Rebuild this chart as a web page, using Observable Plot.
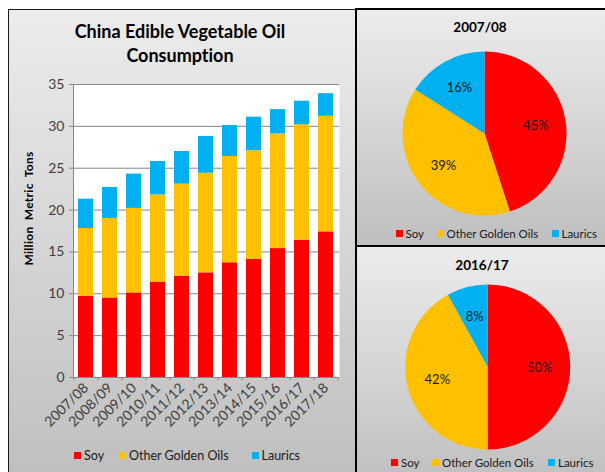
<!DOCTYPE html>
<html><head><meta charset="utf-8">
<script src="https://cdn.jsdelivr.net/npm/d3@7"></script>
<script src="https://cdn.jsdelivr.net/npm/@observablehq/plot@0.6"></script>
<style>
body{margin:0;background:#fff;font-family:Lato,"Open Sans",sans-serif;font-variant-ligatures:none;}
#root{position:relative;width:605px;height:472px;overflow:hidden;background:#fff;}
.panel{position:absolute;box-sizing:border-box;background:linear-gradient(#ececec,#bfbfbf);}
.abs{position:absolute;}
.title{position:absolute;font-weight:bold;color:#000;text-align:center;white-space:nowrap;font-variant-ligatures:none;}
.leg{position:absolute;display:flex;align-items:center;white-space:nowrap;color:#1a1a1a;}
.leg span.sw{display:inline-block;width:7px;height:7px;margin-right:3px;}
</style></head>
<body><div id="root"></div>
<script>
// ---------- data ----------
const years = ["2007/08","2008/09","2009/10","2010/11","2011/12","2012/13","2013/14","2014/15","2015/16","2016/17","2017/18"];
const seriesNames = ["Soy","Other Golden Oils","Laurics"];
const seriesColors = ["#FF0000","#FFC000","#00B0F0"];
const soy         = [9.7, 9.5, 10.1, 11.4, 12.1, 12.5, 13.7, 14.1, 15.4, 16.4, 17.4];
const otherGolden = [8.1, 9.5, 10.1, 10.4, 11.0, 11.9, 12.7, 13.0, 13.7, 13.8, 13.8];
const laurics     = [3.5, 3.7, 4.1,  4.0,  3.9,  4.4,  3.7,  4.0,  2.9,  2.8,  2.7];
const yTicks = [0,5,10,15,20,25,30,35];
const pie0708 = [45, 39, 16];
const pie1617 = [50, 42, 8];

const root = document.getElementById("root");
function el(tag, cls, style, text){ const e=document.createElement(tag); if(cls) e.className=cls; if(style) e.style.cssText=style; if(text!=null) e.textContent=text; root.appendChild(e); return e; }

// panels
el("div","panel","left:8px;top:9px;width:348px;height:470px;border:1.5px solid #1a1a1a;");
el("div","panel","left:355px;top:8px;width:256px;height:239px;border:2px solid #000;");
el("div","panel","left:355px;top:245px;width:256px;height:240px;border:2px solid #000;");

// ---------- bar chart ----------
const rows = [];
const vals = [soy, otherGolden, laurics];
seriesNames.forEach((s, i) => years.forEach((y, j) => rows.push({year: y, series: s, value: vals[i][j]})));

const bar = Plot.plot({
  width: 348, height: 402,
  marginLeft: 65, marginRight: 17, marginTop: 14, marginBottom: 95,
  style: {background: "transparent", fontFamily: "Lato, sans-serif", overflow: "visible"},
  x: {domain: years, paddingInner: 0.37, paddingOuter: 0.185, label: null},
  y: {domain: [0, 35], label: null},
  color: {domain: seriesNames, range: seriesColors},
  marks: [
    Plot.frame({fill: "white", stroke: null}),
    Plot.ruleY(yTicks.filter(d => d > 0), {stroke: "#868686", strokeWidth: 1}),
    Plot.barY(rows, {x: "year", y: "value", fill: "series"}),
    Plot.ruleY([0], {stroke: "#868686"}),
    Plot.frame({anchor: "left", stroke: "#868686"}),
    Plot.ruleX(years, {x: d => d, dx: -12.1, y1: 0, y2: -0.4, stroke: "#868686", clip: false}),
    Plot.ruleX(years.slice(-1), {x: d => d, dx: 12.1, y1: 0, y2: -0.4, stroke: "#868686"}),
    Plot.axisY(yTicks, {tickSize: 4, tickPadding: 5, fontSize: 14, fill: "#404040", stroke: "#868686", label: null}),
    Plot.axisX({tickRotate: -45, tickSize: 0, tickPadding: 8, fontSize: 14, fill: "#404040", label: null})
  ]
});
bar.style.position = "absolute"; bar.style.left = "8px"; bar.style.top = "70px";
root.appendChild(bar);

el("div","title","left:30px;width:300px;top:19px;font-size:18px;line-height:24px;","China Edible Vegetable Oil\nConsumption").style.whiteSpace="pre";
el("div","abs","left:-42px;top:201px;width:140px;text-align:center;font-size:12px;font-weight:bold;letter-spacing:0.3px;word-spacing:3px;transform:rotate(-90deg);color:#000;","Million Metric Tons");

function legend(xs, yc, fontSize){
  seriesNames.forEach((s,i)=>{
    const d = el("div","leg",`left:${xs[i]}px;top:${yc-10}px;height:20px;font-size:${fontSize}px;`);
    const sw=document.createElement("span"); sw.className="sw"; sw.style.background=seriesColors[i]; d.appendChild(sw);
    const t=document.createElement("span"); t.textContent=s; d.appendChild(t);
  });
}
legend([74,119,251.5], 455, 12.5);

// ---------- pies ----------
function piePlot(shares, cx, cy, r, labelR){
  const data = seriesNames.map((s,i)=>({series:s, value:shares[i], color:seriesColors[i]}));
  return Plot.plot({
    width: 256, height: 239, margin: 0,
    style: {background: "transparent", fontFamily: "Lato, sans-serif"},
    marks: [
      () => {
        const g = d3.create("svg:g").attr("transform", `translate(${cx},${cy})`);
        const arcs = d3.pie().sort(null).value(d => d.value)(data);
        const arc = d3.arc().innerRadius(0).outerRadius(r);
        const lab = d3.arc().innerRadius(labelR).outerRadius(labelR);
        g.selectAll("path").data(arcs).join("path").attr("d", arc).attr("fill", d => d.data.color);
        g.selectAll("text").data(arcs).join("text")
          .attr("transform", d => `translate(${lab.centroid(d)})`)
          .attr("text-anchor", "middle").attr("dy", "0.35em")
          .attr("font-size", 13).attr("fill", "#1a1a1a")
          .text(d => d.data.value + "%");
        return g.node();
      }
    ]
  });
}
const p1 = piePlot(pie0708, 129.5, 125.5, 82, 52);
p1.style.position="absolute"; p1.style.left="355px"; p1.style.top="8px"; root.appendChild(p1);
const p2 = piePlot(pie1617, 132.7, 121, 82.5, 52);
p2.style.position="absolute"; p2.style.left="355px"; p2.style.top="246px"; root.appendChild(p2);

el("div","title","left:430px;width:100px;top:19px;font-size:13.5px;","2007/08");
el("div","title","left:432px;width:100px;top:257px;font-size:13.5px;","2016/17");
legend([395.5,436.5,551.5], 233, 11.5);
legend([391,432,548], 462.5, 11.5);
</script></body></html>
